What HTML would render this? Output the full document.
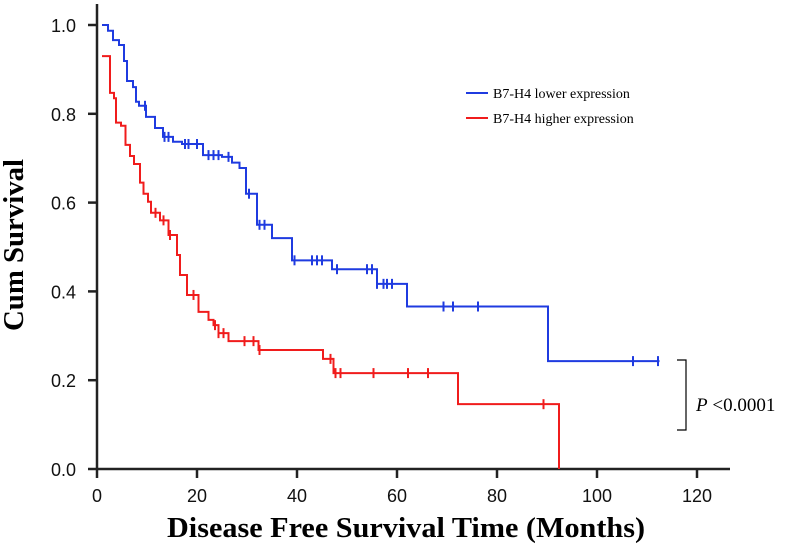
<!DOCTYPE html>
<html><head><meta charset="utf-8"><style>
html,body{margin:0;padding:0;background:#fff;}
svg{display:block;}
</style></head><body>
<svg id="chart" width="786" height="548" viewBox="0 0 786 548">
<g id="axes"></g>
<g id="curves"></g>
<g>
<line x1="466" y1="93" x2="488" y2="93" stroke="#1f3be0" stroke-width="2"/>
<text x="493" y="98" font-family="Liberation Serif, serif" font-size="14">B7-H4 lower expression</text>
<line x1="466" y1="118" x2="488" y2="118" stroke="#f01c1c" stroke-width="2"/>
<text x="493" y="123" font-family="Liberation Serif, serif" font-size="14">B7-H4 higher expression</text>
</g>
<g>
<polyline points="677,360 686,360 686,430 677,430" fill="none" stroke="#000" stroke-width="1.2"/>
<text x="696" y="411" font-family="Liberation Serif, serif" font-size="19"><tspan font-style="italic">P</tspan> &lt;0.0001</text>
</g>
<text x="406" y="537" text-anchor="middle" textLength="478" lengthAdjust="spacingAndGlyphs" font-family="Liberation Serif, serif" font-weight="bold" font-size="28">Disease Free Survival Time (Months)</text>
<text transform="translate(23,245) rotate(-90)" text-anchor="middle" textLength="172" lengthAdjust="spacingAndGlyphs" font-family="Liberation Serif, serif" font-weight="bold" font-size="28">Cum Survival</text>
</svg>
<script>
const xTicks = [0, 20, 40, 60, 80, 100, 120];
const yTicks = [0.0, 0.2, 0.4, 0.6, 0.8, 1.0];
const lowerSteps = [[0,1.0],[2.2,0.987],[3.2,0.966],[4.4,0.955],[5.4,0.919],[6,0.874],[7.2,0.86],[7.8,0.827],[8.4,0.818],[9.8,0.793],[11.6,0.768],[13.2,0.748],[15.2,0.737],[17,0.732],[21.2,0.707],[25,0.703],[27,0.69],[28.5,0.678],[29.8,0.62],[32,0.55],[35,0.52],[39,0.47],[47,0.45],[56,0.417],[62,0.366],[90.2,0.243]];
const lowerEnd = 112.5;
const lowerCensor = [9.6,13.5,14.3,17.6,18.3,20,22.3,23.3,24.3,26.3,30.4,32.5,33.5,39.5,43,44,45,48,54,55,56,57.3,58,59,69.3,71.2,76.2,107.2,112.2];
const higherSteps = [[0,0.93],[2.6,0.847],[3.4,0.835],[3.8,0.78],[4.8,0.773],[5.7,0.73],[6.6,0.705],[7.4,0.687],[8.6,0.645],[9.3,0.62],[10.2,0.602],[10.8,0.577],[12.6,0.56],[14.3,0.527],[16,0.482],[16.6,0.437],[18,0.392],[20.3,0.354],[22.3,0.336],[23.3,0.324],[24.3,0.306],[26.3,0.288],[32.3,0.268],[45.2,0.248],[47.3,0.216],[72.2,0.146],[92.4,0.0]];
const higherEnd = 92.4;
const higherCensor = [11.7,13.3,14.6,19.3,23.6,24.3,25.3,29.5,31.3,32.5,46.7,47.7,48.7,55.3,62.2,66.2,89.3];

const NS='http://www.w3.org/2000/svg';
const X = t => 97 + 5.0*t;
const Y = v => 469 - 444*v;
function mk(tag, attrs, parent){const e=document.createElementNS(NS,tag);for(const k in attrs)e.setAttribute(k,attrs[k]);parent.appendChild(e);return e;}
const axes=document.getElementById('axes'), curves=document.getElementById('curves');
let a=mk('line',{x1:97,y1:4,x2:97,y2:470,stroke:'#222','stroke-width':2.5},axes);


a=mk('line',{x1:96,y1:469,x2:730,y2:469,stroke:'#222','stroke-width':2.5},axes);


xTicks.forEach(t=>{
  const l=mk('line',{x1:X(t),y1:469,x2:X(t),y2:478,stroke:'#222','stroke-width':2.5},axes);
  
  
  const tx=mk('text',{x:X(t),y:502,'text-anchor':'middle','font-family':'Liberation Sans, sans-serif','font-size':18,fill:'#111'},axes);
  tx.textContent=t;
  
  
});
yTicks.forEach(v=>{
  const l=mk('line',{x1:88,y1:Y(v),x2:97,y2:Y(v),stroke:'#222','stroke-width':2.5},axes);
  
  
  const tx=mk('text',{x:76,y:Y(v)+7,'text-anchor':'end','font-family':'Liberation Sans, sans-serif','font-size':18,fill:'#111'},axes);
  tx.textContent=v.toFixed(1);
  
  
});
function valAt(steps,t){let v=steps[0][1];for(const s of steps){if(s[0]<=t)v=s[1];}return v;}
function drawCurve(steps,end,censor,color,name){
  let d='M'+X(steps[0][0]+1)+','+Y(steps[0][1]);
  for(let i=1;i<steps.length;i++){d+=' H'+X(steps[i][0])+' V'+Y(steps[i][1]);}
  d+=' H'+X(end);
  const p=mk('path',{d:d,fill:'none',stroke:color,'stroke-width':2},curves);
  
  
  censor.forEach((t,i)=>{
    const y=Y(valAt(steps,t));
    const c=mk('line',{x1:X(t),y1:y-5,x2:X(t),y2:y+5,stroke:color,'stroke-width':2},curves);
    
    
  });
}
drawCurve(lowerSteps,lowerEnd,lowerCensor,'#1f3be0','lower-expression');
drawCurve(higherSteps,higherEnd,higherCensor,'#f01c1c','higher-expression');
</script>
</body></html>
